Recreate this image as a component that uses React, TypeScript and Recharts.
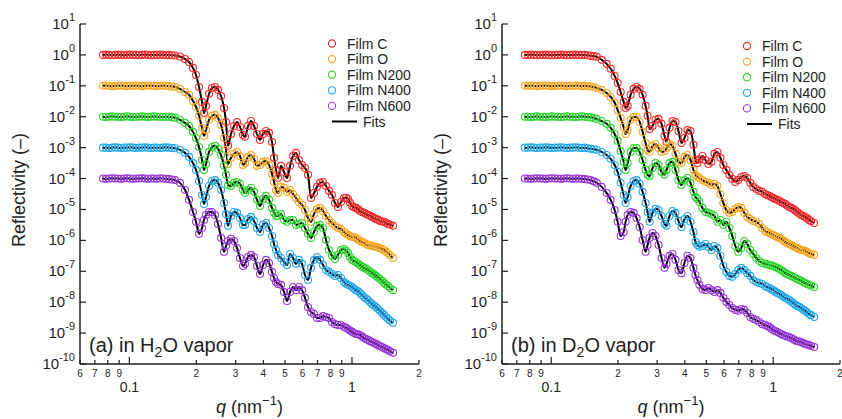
import { ComposedChart, Scatter, Line, XAxis, YAxis } from 'recharts'

const FONT = '"Liberation Sans", Arial, sans-serif'
const INK = '#1e1e1e'

const PANEL_H = 419
const PLOT_TOP = 24
const PLOT_BOTTOM = 364
const AXIS_W = 80

const filmNames = ['Film C', 'Film O', 'Film N200', 'Film N400', 'Film N600']
const filmColors = ['#f42a2a', '#f7a520', '#2ad62a', '#22a8ef', '#9a35dc']

const qTicks = [0.06, 0.07, 0.08, 0.09, 0.1, 0.2, 0.3, 0.4, 0.5, 0.6, 0.7, 0.8, 0.9, 1, 2]
const rTicks = [1e-10, 1e-9, 1e-8, 1e-7, 1e-6, 1e-5, 1e-4, 1e-3, 1e-2, 1e-1, 1, 10]

// measured q points (nm^-1), shared by every film
const qValues = [
  0.0761, 0.0785, 0.081, 0.0836, 0.0862, 0.0889, 0.0917, 0.0946, 0.0976, 0.1006, 0.1038, 0.1071, 0.1105,
  0.1139, 0.1175, 0.1212, 0.1251, 0.129, 0.1331, 0.1373, 0.1416, 0.1461, 0.1506, 0.1554, 0.1603,
  0.1688, 0.1778, 0.1853, 0.1931, 0.1992, 0.2055, 0.212, 0.2164, 0.2209, 0.2279,
  0.235, 0.2425, 0.2502, 0.2581, 0.2662, 0.2717, 0.2774, 0.2861, 0.2951, 0.3044,
  0.314, 0.324, 0.3307, 0.3412, 0.3519, 0.363, 0.3744, 0.3863, 0.3984, 0.411,
  0.4239, 0.4373, 0.4465, 0.4558, 0.4653, 0.48, 0.4951, 0.5108, 0.5269, 0.5435,
  0.5605, 0.5781, 0.5963, 0.6151, 0.6345, 0.6544, 0.6751, 0.6963, 0.7183, 0.7409,
  0.7643, 0.7884, 0.8132, 0.8389, 0.8653, 0.8926, 0.9207,
  0.94, 0.9596, 0.9796, 1.0002, 1.021, 1.0423, 1.0643, 1.0864, 1.1093, 1.1325, 1.1561, 1.18,
  1.2051, 1.2299, 1.2558, 1.2823, 1.3089, 1.336, 1.3643, 1.3924, 1.4219, 1.4518, 1.482, 1.529,
]

// log10 of reflectivity, films in H2O vapor (each film offset by one decade)
const h2oFilmC = [
  0, 0.01, 0, -0.01, 0, 0.01, 0, -0.01, 0, 0.01, 0, 0, -0.01,
  0, 0.01, 0, -0.01, 0, 0, 0.01, 0, -0.01, 0, -0.01, -0.02,
  -0.05, -0.13, -0.23, -0.42, -0.65, -1.04, -1.52, -1.88, -1.65, -1.26,
  -1.07, -1.04, -1.13, -1.33, -1.72, -2.17, -2.94, -2.56, -2.3, -2.17,
  -2.33, -2.59, -2.65, -2.3, -2.14, -2.3, -2.56, -2.75, -2.56, -2.46,
  -2.52, -2.82, -3.33, -3.72, -3.98, -3.59, -3.79, -3.98, -3.59, -3.27,
  -3.17, -3.4, -3.56, -3.66, -3.88, -4.63, -4.47, -4.27, -4.14, -4.11,
  -4.24, -4.4, -4.53, -4.79, -4.92, -4.76, -4.63,
  -4.62, -4.66, -4.78, -4.89, -4.93, -4.95, -4.99, -5.05, -5.08, -5.11, -5.14, -5.18,
  -5.2, -5.24, -5.28, -5.31, -5.33, -5.37, -5.39, -5.4, -5.43, -5.47, -5.49, -5.53,
]
const h2oFilmO = [
  -1, -0.99, -1, -1.01, -1, -1, -0.99, -1, -1.01, -1, -1, -0.99, -1,
  -1.01, -1, -0.99, -1, -1, -1.01, -1, -0.99, -1, -1.01, -1.02, -1.03,
  -1.1, -1.2, -1.29, -1.49, -1.68, -1.97, -2.36, -2.62, -2.43, -2.1,
  -1.97, -1.94, -2.04, -2.27, -2.69, -3.07, -3.53, -3.33, -3.2, -3.14,
  -3.27, -3.56, -3.5, -3.3, -3.24, -3.37, -3.59, -3.56, -3.46, -3.43,
  -3.56, -3.85, -4.11, -4.37, -4.47, -4.27, -4.3, -4.43, -4.37, -4.5,
  -4.63, -4.76, -4.85, -5.02, -5.28, -5.4, -5.15, -4.98, -4.95, -5.05,
  -5.21, -5.34, -5.44, -5.53, -5.6, -5.63, -5.73,
  -5.78, -5.83, -5.86, -5.89, -5.9, -5.92, -5.97, -6.02, -6.05, -6.08, -6.12, -6.15,
  -6.16, -6.18, -6.2, -6.21, -6.23, -6.25, -6.28, -6.31, -6.36, -6.41, -6.48, -6.57,
]
const h2oFilmN200 = [
  -2, -2.01, -2, -1.99, -2, -2, -2.01, -2, -1.99, -2, -2.01, -2, -2,
  -1.99, -2, -2.01, -2, -1.99, -2, -2, -2.01, -2, -2, -2.02, -2.03,
  -2.1, -2.2, -2.3, -2.49, -2.69, -2.98, -3.4, -3.72, -3.53, -3.14,
  -2.98, -2.94, -3.04, -3.24, -3.59, -3.88, -4.21, -4.24, -4.14, -4.11,
  -4.17, -4.37, -4.47, -4.37, -4.3, -4.43, -4.69, -4.89, -4.66, -4.56,
  -4.69, -4.95, -5.11, -5.21, -5.21, -5.15, -5.34, -5.4, -5.34, -5.34,
  -5.5, -5.47, -5.44, -5.6, -5.79, -5.92, -5.73, -5.53, -5.5, -5.6,
  -5.99, -6.31, -6.5, -6.6, -6.47, -6.31, -6.28,
  -6.33, -6.41, -6.53, -6.63, -6.67, -6.7, -6.75, -6.8, -6.85, -6.89, -6.92, -6.96,
  -7.01, -7.06, -7.1, -7.15, -7.2, -7.25, -7.31, -7.38, -7.43, -7.48, -7.54, -7.61,
]
const h2oFilmN400 = [
  -3, -3, -3.01, -3, -2.99, -3, -3.01, -3, -3, -2.99, -3, -3.01, -3,
  -3, -2.99, -3, -3.01, -3, -3, -3.01, -3, -2.99, -3, -3.01, -3.02,
  -3.07, -3.17, -3.3, -3.5, -3.72, -4.08, -4.53, -4.82, -4.6, -4.24,
  -4.08, -4.05, -4.14, -4.37, -4.79, -5.15, -5.53, -5.21, -5.08, -5.11,
  -5.28, -5.5, -5.5, -5.31, -5.24, -5.37, -5.6, -5.73, -5.5, -5.44,
  -5.6, -5.86, -6.12, -6.31, -6.47, -6.57, -6.7, -6.8, -6.44, -6.57,
  -6.76, -6.63, -6.76, -7.12, -7.28, -6.89, -6.63, -6.54, -6.63, -6.8,
  -6.96, -7.02, -7.09, -7.15, -7.12, -7.22, -7.35,
  -7.4, -7.44, -7.47, -7.51, -7.56, -7.61, -7.65, -7.7, -7.77, -7.83, -7.88, -7.93,
  -8, -8.06, -8.11, -8.16, -8.22, -8.28, -8.35, -8.41, -8.48, -8.54, -8.6, -8.67,
]
const h2oFilmN600 = [
  -4, -4.01, -4, -3.99, -4, -4, -4.01, -4, -3.99, -4, -4.01, -4, -4,
  -3.99, -4, -4.01, -4, -4, -4.01, -3.99, -4, -4.01, -4.02, -4.03, -4.05,
  -4.14, -4.37, -4.69, -5.08, -5.4, -5.79, -5.6, -5.34, -5.18, -5.08,
  -5.08, -5.18, -5.47, -5.92, -6.37, -6.18, -6.02, -5.95, -6.02, -6.25,
  -6.57, -6.83, -6.76, -6.54, -6.47, -6.54, -6.83, -7.09, -6.8, -6.63,
  -6.73, -7.02, -7.22, -7.35, -7.41, -7.44, -7.67, -7.96, -7.67, -7.51,
  -7.61, -7.51, -7.61, -7.86, -8.16, -8.32, -8.38, -8.51, -8.51, -8.45,
  -8.48, -8.51, -8.64, -8.71, -8.74, -8.74, -8.8,
  -8.83, -8.87, -8.92, -8.96, -9, -9.03, -9.04, -9.06, -9.11, -9.16, -9.19, -9.22,
  -9.26, -9.29, -9.32, -9.35, -9.39, -9.42, -9.45, -9.48, -9.52, -9.55, -9.59, -9.64,
]

// log10 of reflectivity, films in D2O vapor
const d2oFilmC = [
  0, 0, 0.01, 0, -0.01, 0, 0, 0.01, 0, -0.01, 0, 0, 0.01,
  0, -0.01, 0, 0, 0.01, -0.01, 0, 0, -0.01, -0.03, -0.04, -0.06,
  -0.16, -0.29, -0.45, -0.68, -0.91, -1.2, -1.52, -1.72, -1.65, -1.29,
  -1.1, -1.04, -1.1, -1.29, -1.65, -1.97, -2.4, -2.3, -2.1, -2.07,
  -2.23, -2.62, -2.82, -2.36, -2.14, -2.17, -2.46, -2.85, -2.69, -2.43,
  -2.46, -2.91, -3.4, -3.5, -3.38, -3.27, -3.4, -3.53, -3.46, -3.2,
  -3.14, -3.33, -3.56, -3.72, -3.88, -4.01, -4.11, -4.05, -3.95, -3.92,
  -3.98, -4.14, -4.27, -4.34, -4.4, -4.43, -4.5,
  -4.53, -4.56, -4.6, -4.63, -4.66, -4.69, -4.72, -4.76, -4.79, -4.82, -4.87, -4.92,
  -4.95, -4.98, -5.03, -5.08, -5.13, -5.18, -5.21, -5.24, -5.29, -5.34, -5.38, -5.44,
]
const d2oFilmO = [
  -1, -1, -0.99, -1, -1.01, -1, -1, -0.99, -1, -1.01, -1, -1, -0.99,
  -1, -1.01, -1, -1, -0.99, -1, -1.01, -1, -1.01, -1.02, -1.04, -1.07,
  -1.13, -1.23, -1.36, -1.55, -1.78, -2.04, -2.33, -2.56, -2.43, -2.1,
  -2.01, -2.01, -2.17, -2.49, -2.85, -3.07, -3.14, -2.94, -2.88, -3.01,
  -3.14, -3.11, -3.01, -2.88, -2.94, -3.2, -3.46, -3.5, -3.3, -3.24,
  -3.4, -3.72, -3.88, -3.95, -3.98, -4.05, -4.11, -4.14, -4.21, -4.17,
  -4.24, -4.5, -4.79, -5.02, -5.11, -5.08, -4.98, -4.92, -4.95, -5.11,
  -5.24, -5.31, -5.37, -5.4, -5.47, -5.6, -5.7,
  -5.73, -5.76, -5.8, -5.83, -5.86, -5.89, -5.92, -5.95, -6, -6.05, -6.09, -6.12,
  -6.15, -6.18, -6.22, -6.25, -6.28, -6.31, -6.32, -6.34, -6.38, -6.41, -6.44, -6.47,
]
const d2oFilmN200 = [
  -2, -2, -2.01, -2, -1.99, -2, -2, -2.01, -2, -1.99, -2, -2, -2.01,
  -2, -1.99, -2, -2, -2.01, -2, -1.99, -2, -2.01, -2.02, -2.04, -2.07,
  -2.14, -2.23, -2.36, -2.56, -2.78, -3.11, -3.46, -3.72, -3.5, -3.14,
  -3.01, -3.01, -3.14, -3.4, -3.72, -3.88, -3.92, -3.66, -3.5, -3.56,
  -3.79, -3.88, -3.72, -3.5, -3.46, -3.72, -4.05, -4.21, -4.05, -3.98,
  -4.14, -4.43, -4.6, -4.66, -4.76, -4.95, -5.08, -5.11, -5.15, -5.21,
  -5.4, -5.34, -5.5, -5.4, -5.6, -5.86, -6.18, -6.37, -6.25, -6.02,
  -6.12, -6.31, -6.44, -6.57, -6.67, -6.73, -6.76,
  -6.78, -6.8, -6.81, -6.83, -6.86, -6.89, -6.93, -6.96, -7.01, -7.06, -7.09, -7.12,
  -7.15, -7.18, -7.22, -7.25, -7.28, -7.31, -7.35, -7.38, -7.41, -7.44, -7.47, -7.51,
]
const d2oFilmN400 = [
  -3, -3, -2.99, -3, -3.01, -3, -3, -2.99, -3, -3.01, -3, -3, -2.99,
  -3, -3.01, -3, -3, -2.99, -3, -3.01, -3, -3.02, -3.04, -3.05, -3.07,
  -3.14, -3.24, -3.36, -3.56, -3.79, -4.14, -4.53, -4.79, -4.6, -4.24,
  -4.08, -4.05, -4.17, -4.43, -4.79, -5.08, -5.4, -5.11, -4.98, -5.02,
  -5.21, -5.47, -5.53, -5.21, -5.05, -5.11, -5.37, -5.57, -5.31, -5.21,
  -5.4, -5.73, -6.05, -6.15, -6.21, -6.18, -6.12, -6.21, -6.31, -6.18,
  -6.25, -6.5, -6.83, -7.02, -7.15, -7.18, -7.09, -6.96, -6.89, -6.96,
  -7.06, -7.15, -7.28, -7.35, -7.38, -7.41, -7.48,
  -7.51, -7.54, -7.58, -7.61, -7.66, -7.7, -7.73, -7.77, -7.82, -7.86, -7.89, -7.93,
  -7.98, -8.03, -8.08, -8.12, -8.15, -8.19, -8.24, -8.28, -8.33, -8.38, -8.42, -8.48,
]
const d2oFilmN600 = [
  -4, -4, -4.01, -4, -3.99, -4, -4, -4.01, -4, -3.99, -4, -4, -4.01,
  -4, -3.99, -4, -4.01, -4, -4, -4.01, -4.02, -4.03, -4.05, -4.09, -4.14,
  -4.27, -4.47, -4.69, -5.02, -5.4, -5.86, -5.73, -5.4, -5.18, -5.08,
  -5.11, -5.28, -5.57, -5.99, -6.37, -6.15, -5.92, -5.76, -5.86, -6.15,
  -6.57, -6.89, -6.76, -6.5, -6.44, -6.63, -6.96, -7.06, -6.73, -6.5,
  -6.57, -6.89, -7.12, -7.28, -7.44, -7.57, -7.61, -7.54, -7.61, -7.67,
  -7.61, -7.7, -7.86, -7.99, -8.09, -8.19, -8.25, -8.28, -8.22, -8.25,
  -8.35, -8.48, -8.54, -8.58, -8.64, -8.71, -8.74,
  -8.77, -8.8, -8.85, -8.9, -8.93, -8.96, -9, -9.03, -9.06, -9.09, -9.11, -9.13,
  -9.16, -9.19, -9.23, -9.26, -9.27, -9.29, -9.32, -9.35, -9.37, -9.39, -9.42, -9.45,
]

type Point = { q: number; r: number }

function toPoints(logR: number[]): Point[] {
  return qValues.map((q, i) => ({ q, r: 10 ** logR[i] }))
}

const h2oSeries = [h2oFilmC, h2oFilmO, h2oFilmN200, h2oFilmN400, h2oFilmN600].map(toPoints)
const d2oSeries = [d2oFilmC, d2oFilmO, d2oFilmN200, d2oFilmN400, d2oFilmN600].map(toPoints)

function ring(color: string) {
  return (props: any) => (
    <circle cx={props.cx} cy={props.cy} r={3.5} fill="none" stroke={color} strokeWidth={1.1} />
  )
}

function minorDigit(v: number) {
  if (v < 0.1) return String(Math.round(v * 100))
  if (v < 1) return String(Math.round(v * 10))
  return String(v)
}

function BottomTick({ x, y, payload }: any) {
  const v = payload.value
  const major = v === 0.1 || v === 1
  return (
    <g>
      <line x1={x} x2={x} y1={y} y2={y - (major ? 7 : 4)} stroke={INK} strokeWidth={1.2} />
      {major ? (
        <text x={x} y={y + 28} textAnchor="middle" fontSize={14} fill={INK} fontFamily={FONT}>
          {v}
        </text>
      ) : (
        <text x={x} y={y + 13} textAnchor="middle" fontSize={10} fill={INK} fontFamily={FONT}>
          {minorDigit(v)}
        </text>
      )}
    </g>
  )
}

function TopTick({ x, y, payload }: any) {
  const major = payload.value === 0.1 || payload.value === 1
  return <line x1={x} x2={x} y1={y} y2={y + (major ? 7 : 4)} stroke={INK} strokeWidth={1.2} />
}

function LeftTick({ x, y, payload }: any) {
  const exp = Math.round(Math.log10(payload.value))
  return (
    <g>
      <line x1={x} x2={x + 6} y1={y} y2={y} stroke={INK} strokeWidth={1.2} />
      <text x={x - 5} y={y + 5} textAnchor="end" fontSize={15} fill={INK} fontFamily={FONT}>
        10
        <tspan dy={-8} fontSize={11}>
          {exp}
        </tspan>
      </text>
    </g>
  )
}

function RightTick({ x, y }: any) {
  return <line x1={x} x2={x - 6} y1={y} y2={y} stroke={INK} strokeWidth={1.2} />
}

interface PanelProps {
  left: number
  width: number
  rightGap: number
  series: Point[][]
  medium: string
  legendX: number
  legendY: number
}

function Panel({ left, width, rightGap, series, medium, legendX, legendY }: PanelProps) {
  const plotRight = width - rightGap
  const frame = { stroke: INK, strokeWidth: 1.5 }
  const rowGap = 15.6
  return (
    <div style={{ position: 'absolute', left, top: 0, width, height: PANEL_H }}>
      <ComposedChart
        width={width}
        height={PANEL_H}
        margin={{ top: PLOT_TOP, right: rightGap, bottom: 0, left: 0 }}
      >
        <XAxis
          dataKey="q"
          type="number"
          scale="log"
          domain={[0.06, 2]}
          allowDataOverflow
          ticks={qTicks}
          interval={0}
          height={PANEL_H - PLOT_BOTTOM}
          tickLine={false}
          tickSize={0}
          tickMargin={0}
          axisLine={frame}
          tick={(p: any) => <BottomTick {...p} />}
        />
        <XAxis
          xAxisId="top"
          orientation="top"
          dataKey="q"
          type="number"
          scale="log"
          domain={[0.06, 2]}
          allowDataOverflow
          ticks={qTicks}
          interval={0}
          height={0}
          tickLine={false}
          tickSize={0}
          tickMargin={0}
          axisLine={frame}
          tick={(p: any) => <TopTick {...p} />}
        />
        <YAxis
          dataKey="r"
          type="number"
          scale="log"
          domain={[1e-10, 10]}
          allowDataOverflow
          ticks={rTicks}
          interval={0}
          width={AXIS_W}
          tickLine={false}
          tickSize={0}
          tickMargin={0}
          axisLine={frame}
          tick={(p: any) => <LeftTick {...p} />}
        />
        <YAxis
          yAxisId="right"
          orientation="right"
          dataKey="r"
          type="number"
          scale="log"
          domain={[1e-10, 10]}
          allowDataOverflow
          ticks={rTicks}
          interval={0}
          width={0}
          tickLine={false}
          tickSize={0}
          tickMargin={0}
          axisLine={frame}
          tick={(p: any) => <RightTick {...p} />}
        />
        {series.map((pts, i) => (
          <Scatter
            key={`pts-${i}`}
            name={filmNames[i]}
            data={pts}
            shape={ring(filmColors[i])}
            isAnimationActive={false}
          />
        ))}
        {series.map((pts, i) => (
          <Line
            key={`fit-${i}`}
            data={pts}
            dataKey="r"
            type="monotone"
            stroke="#000"
            strokeWidth={2}
            dot={false}
            activeDot={false}
            isAnimationActive={false}
          />
        ))}
      </ComposedChart>
      <svg
        width={width}
        height={PANEL_H}
        style={{ position: 'absolute', left: 0, top: 0, pointerEvents: 'none' }}
        fontFamily={FONT}
        fill={INK}
      >
        <text
          transform={`translate(${AXIS_W - 55}, 190) rotate(-90)`}
          textAnchor="middle"
          fontSize={18}
        >
          Reflectivity (–)
        </text>
        <text x={(AXIS_W + plotRight) / 2} y={413} textAnchor="middle" fontSize={18}>
          <tspan fontStyle="italic">q</tspan> (nm
          <tspan dy={-8} fontSize={13}>
            −1
          </tspan>
          <tspan dy={8}>)</tspan>
        </text>
        <text x={AXIS_W + 9} y={352} fontSize={20}>
          {medium === 'H' ? '(a) in H' : '(b) in D'}
          <tspan dy={5} fontSize={14}>
            2
          </tspan>
          <tspan dy={-5}>O vapor</tspan>
        </text>
        {filmNames.map((name, i) => (
          <g key={name}>
            <circle
              cx={legendX}
              cy={legendY + i * rowGap}
              r={3.6}
              fill="none"
              stroke={filmColors[i]}
              strokeWidth={1.1}
            />
            <text x={legendX + 15} y={legendY + i * rowGap + 5} fontSize={14}>
              {name}
            </text>
          </g>
        ))}
        <line
          x1={legendX}
          x2={legendX + 25}
          y1={legendY + 5 * rowGap}
          y2={legendY + 5 * rowGap}
          stroke="#000"
          strokeWidth={2}
        />
        <text x={legendX + 31} y={legendY + 5 * rowGap + 5} fontSize={14}>
          Fits
        </text>
      </svg>
    </div>
  )
}

export default function App() {
  return (
    <div
      style={{
        position: 'absolute',
        left: 0,
        top: 0,
        width: 842,
        height: 419,
        background: '#fff',
        overflow: 'hidden',
      }}
    >
      <Panel left={0} width={426} rightGap={7} series={h2oSeries} medium="H" legendX={332} legendY={43.5} />
      <Panel left={422} width={420} rightGap={2} series={d2oSeries} medium="D" legendX={325} legendY={46} />
    </div>
  )
}
